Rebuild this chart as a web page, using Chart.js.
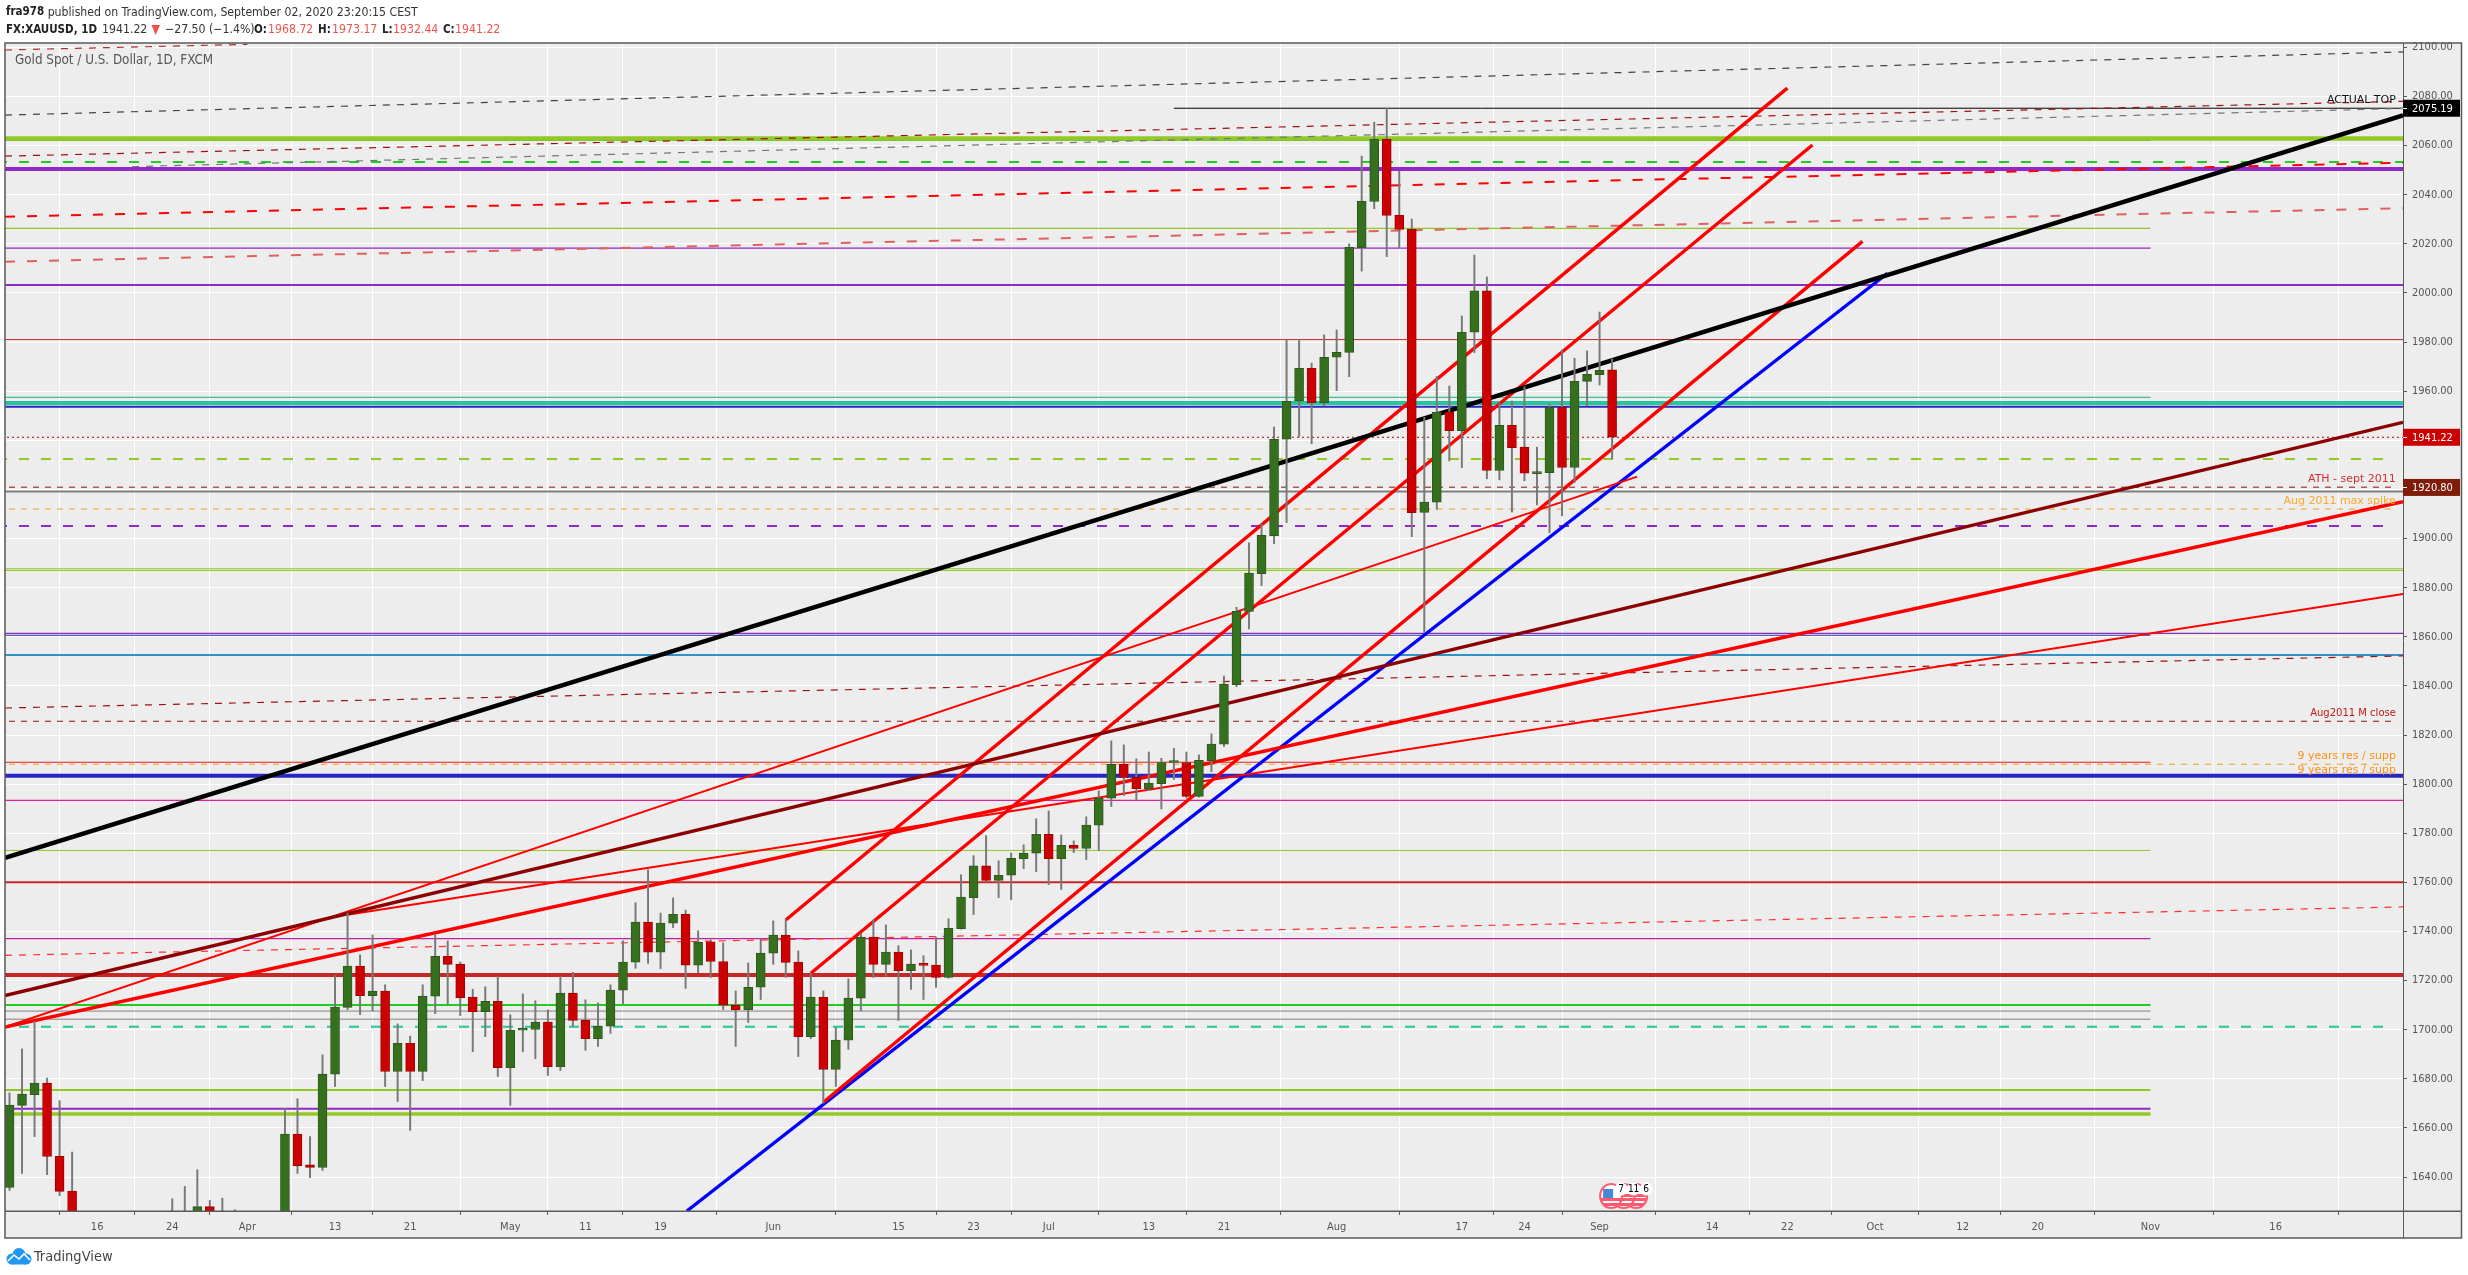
<!DOCTYPE html>
<html><head><meta charset="utf-8"><title>XAUUSD</title>
<script src="https://cdn.jsdelivr.net/npm/chart.js@4"></script>
<style>html,body{margin:0;padding:0;background:#fff}canvas{display:block}</style></head>
<body><canvas id="c" width="2468" height="1275"></canvas>
<script>
// Trading-day index 0 = 5 Mar 2020, weekdays only
const opens=[1635.8,1669.2,1673.6,1678.3,1648.5,1634.3,1577,1530,1486,1526,
1477,1471,1498,1553,1611,1612,1628,1617,1621,1577,
1591,1614,1620,1657.5,1645,1643.9,1681.9,1709.1,1725.9,1713.9,
1715.7,1683,1694.5,1683,1713.7,1729.9,1726.7,1713.3,1707.4,1711.6,
1684.6,1699.8,1700.1,1703.1,1685,1714.9,1703.9,1696.4,1701.5,1716.1,
1727.5,1743.8,1731.6,1743.4,1747,1726.3,1735.8,1727.8,1710,1708.2,
1717.3,1731.2,1738.5,1727.5,1697.2,1713.3,1683.8,1695.8,1712.9,1737.7,
1726.6,1731.6,1724.1,1726.7,1726.3,1721.3,1741.2,1753.8,1766.7,1760.8,
1762.9,1769.7,1771.9,1779.6,1769.7,1775.1,1773.8,1783.3,1794.3,1808.1,
1802.8,1798.2,1800.2,1808.8,1808.8,1795,1809.6,1816.3,1840.5,1870.3,
1885.7,1901.2,1940.4,1955.9,1969.3,1955.3,1973.8,1975.8,2018.4,2037.2,
2062.5,2031.6,2025.9,1910.6,1914.8,1951.5,1943.9,1984,2000.8,1927.7,
1946.1,1937.2,1926.4,1926.8,1953.4,1928.9,1964,1966.7,1968.72];
const closes=[1669.3,1673.8,1678.3,1648.4,1634.2,1577,1530,1486,1526,1477,
1471,1498,1553,1611,1612,1628,1617,1621,1577,1591,
1614,1620,1657.5,1644.7,1643.9,1681.9,1709.2,1725.9,1713.9,1715.7,
1683,1694.5,1683,1713.7,1729.9,1726.6,1713.1,1707.4,1711.6,1684.6,
1699.8,1700.2,1703.1,1685,1714.9,1703.8,1696.4,1701.5,1716.1,1727.5,
1743.8,1731.6,1743.4,1747,1726.3,1735.6,1727.8,1710,1708.2,1717.3,
1731.2,1738.5,1727.4,1697.2,1713.3,1683.8,1695.8,1712.9,1737.7,1726.6,
1731.6,1724.1,1726.7,1726.2,1721.3,1741.3,1754,1766.7,1760.8,1762.9,
1769.8,1771.9,1779.6,1769.7,1775.1,1773.8,1783.3,1794.3,1808.1,1802.7,
1798.2,1800.4,1808.8,1809.1,1795,1809.7,1816.3,1840.7,1870.4,1885.9,
1901.3,1940.4,1955.9,1969.3,1955.3,1973.8,1975.8,2018.6,2037.3,2062.5,
2031.5,2025.8,1910.5,1914.8,1951.4,1943.9,1984,2000.8,1927.7,1946.1,
1937,1926.6,1927.1,1953.4,1928.9,1964,1966.9,1968.5,1941.22];
const highs=[1674.3,1692.2,1703.4,1680.3,1671.1,1650.2,1595,1575,1547,1548,
1505,1518,1553,1631.2,1636.2,1643,1630.5,1631.4,1626.7,1610,
1625,1625,1668,1671.9,1656.5,1689.8,1722.1,1747.5,1730.5,1738.6,
1718.3,1702.4,1697.4,1718.3,1738.6,1736.2,1727.6,1716.5,1717.5,1721.7,
1706.1,1714.6,1711.8,1708.1,1721.7,1723.4,1712.2,1710.9,1718.3,1736.2,
1751.7,1765.1,1747.5,1753.7,1748.7,1740.3,1736.6,1735.4,1715.8,1727.2,
1736.9,1744.3,1745,1732.1,1723,1715.8,1700.8,1720.7,1739.3,1744.7,
1742.7,1734.2,1732.5,1730.1,1737.7,1745.2,1763.1,1770.9,1779,1768.8,
1772,1775.3,1785.9,1789.1,1779.3,1776.9,1786.7,1797.3,1817.6,1816,
1810.3,1813.1,1810.5,1814.6,1813.1,1811.9,1820.5,1844,1872,1898.2,
1906,1945.4,1981,1981,1971.4,1982.9,1984.9,2020,2055.7,2069.5,
2075.2,2049.6,2030.1,1949.4,1966,1962.1,1990.6,2015.4,2006.5,1955.3,
1956,1961.8,1937.2,1954.8,1976.8,1973.4,1976.4,1992.2,1973.17];
const lows=[1634.6,1641.5,1656.5,1641,1632.5,1560,1505,1451,1475,1471,
1465,1466,1484,1553,1590,1598,1610,1610,1570,1572,
1588,1600,1610,1641.5,1639.8,1642.7,1676.9,1708.2,1706.2,1707.7,
1676.9,1670.8,1659,1679.3,1706.6,1710.4,1705.8,1691.1,1697.2,1681,
1669.2,1691.1,1688.2,1681.4,1683.4,1701.3,1691.6,1693.2,1698.5,1710.6,
1725,1727,1724.9,1741.6,1716.8,1723.2,1721.3,1708.2,1693.2,1703,
1712.3,1726.6,1721.3,1689.1,1696.4,1670.1,1676.9,1692,1707.7,1721.3,
1721.7,1703.8,1716.4,1712.3,1717.2,1721,1741,1746.9,1760.3,1753.8,
1752.9,1765.6,1764.4,1759.1,1757.1,1772.1,1769.3,1772.9,1790.9,1795.4,
1793.6,1797.4,1789.9,1801.9,1794.3,1794.7,1805.1,1815.3,1839.7,1863.2,
1880.8,1897.9,1906.5,1941.4,1938.6,1954,1960.2,1965.9,2008.9,2034.3,
2014.8,2018.4,1900.8,1861.7,1911.9,1931.6,1928.9,1975.7,1924.3,1923.9,
1910.8,1923.5,1913.7,1902.4,1909.2,1922.8,1954,1962.5,1932.44];

const xTickIndex=[7,13,19,26,32,40,46,52,61,71,77,83,91,97,106,116,121,127,136,142,149,156,162,171,181];
const xTickLabels=['16','24','Apr','13','21','May','11','19','Jun','15','23','Jul','13','21','Aug','17','24','Sep','14','22','Oct','12','20','Nov','16'];
const yTickValues=[1640,1660,1680,1700,1720,1740,1760,1780,1800,1820,1840,1860,1880,1900,1920,1940,1960,1980,2000,2020,2040,2060,2080,2100];

// Horizontal levels: price, first and last trading-day index
const levelPrices=[2062.9,2062.1,2053.3,2050.5,2026.3,2018.2,2003.2,1981,1957.5,1955.2,1953.7,1941.22,1932.4,1920.9,1919.1,1912,1905.1,1887.7,1887,1861.4,1860.6,1852.6,1825.6,1808.9,1808.1,1803.4,1793.4,1773,1760,1737.1,1722.3,1710.1,1707.6,1704.3,1701.2,1675.5,1667.8,1665.7,2075.19];
const levelStarts=[-1,-1,-1,-1,-1,-1,-1,-1,-1,-1,-1,-1,-1,-1,-1,-1,-1,-1,-1,-1,-1,-1,-1,-1,-1,-1,-1,-1,-1,-1,-1,-1,-1,-1,-1,-1,-1,-1,93];
const levelEnds=[192,171,192,192,171,171,192,192,171,192,192,192,190.4,190.4,192,190.6,190.4,192,192,192,171,192,190.4,171,190.6,192,192,171,192,171,192,171,171,171,190.4,171,171,171,192];

// Sloped trend lines: start index, start price, end index, end price
const trendStartX=[-0.36,-0.36,-0.36,-0.36,27,62,64,65,54.1,-0.36,-0.36,-0.36,9.8,-0.36,-0.36,-0.36,-0.36];
const trendStartP=[1770,1713.9,1701.1,1701.1,1746.8,1744.7,1723,1670.5,1626.2,2098.9,2072.4,2055.7,2051.4,2031,2012.7,1730.3,1831];
const trendEndX=[191.17,191.17,191.17,130,191.17,142,144,148,150,19,191.17,191.17,191.17,191.17,191.17,191.17,191.17];
const trendEndP=[2072.3,1947.3,1915,1925.2,1877.4,2083.4,2060.2,2021,2008,2101.2,2098.1,2078,2075.1,2053,2034.5,1750,1852.2];

const noteTexts=['ACTUAL TOP','ATH - sept 2011','Aug 2011 max spike','Aug2011 M close','9 years res / supp','9 years res / supp'];
const notePrices=[2078.3,1924,1915.4,1828.7,1811.5,1805.8];
const priceTagValues=[2075.19,1941.22,1920.80];
const eventIndex=[130,129,128];
const eventCounts=['6','11','7'];

const headerLine1=['fra978',' published on TradingView.com, September 02, 2020 23:20:15 CEST'];
const instrumentTitle='Gold Spot / U.S. Dollar, 1D, FXCM';

// Styles, kept apart from the values
const OLIVE='#93c926',LIME='#22cc22',PURPLE='#9129c9',BRICK='#c62828',TEAL='#26c79a',NAVY='#2626c4',ORANGE='#f59e20',DKRED='#8b1010',GRAY='#808080',PINK='#e0209a',MAG='#c020a0';
const D2=[10,12],D1=[6,6];
const levelStyles=[[OLIVE,4.5],[LIME,1.3],[LIME,2,D2],[PURPLE,4],[OLIVE,1.3],[PURPLE,1.3],[PURPLE,2],[BRICK,1],['#3bbf95',1.3],[TEAL,4],[NAVY,2],['#b00000',1,[2,3]],[OLIVE,2,D2],[DKRED,1,D1],[GRAY,2],[ORANGE,1,D1],[PURPLE,2,D2],[OLIVE,1],[OLIVE,1],['#8a2fb0',1.3],['#3030c8',1],['#2e93c7',2],[DKRED,1,D1],['#e02020',1],[ORANGE,1,D1],[NAVY,4],[PINK,1.3],[OLIVE,1],[BRICK,2],[MAG,1.3],[BRICK,4],[LIME,2],[GRAY,1],[GRAY,1],[TEAL,2,D2],[OLIVE,2],[PURPLE,2],[OLIVE,3.5],['#000000',1]];
const trendStyles=[['#000000',4.5],['#8b0000',3.4],['#ff0000',3.4],['#ff0000',2],['#ff0000',2],['#ff0000',3.4],['#ff0000',3.4],['#ff0000',3.4],['#0000ff',3.4],['#b03030',1.2,[7,7]],['#444444',1.2,[7,7]],['#a01010',1.2,[7,7]],['#777777',1.2,[7,7]],['#ff0000',2,D2],['#e06060',2,D2],['#ff3030',1.2,[7,7]],['#a01010',1.2,[7,7]]];
const noteColors=['#111111','#d03030','#ffa726','#c01818','#ff9010','#ff9010'];
const noteSizes=[11,11,11,10,11,11];
const tagColors=['#000000','#cc0000','#7f1d0a'];
const FONT='"DejaVu Sans Condensed","Liberation Sans",sans-serif';

const isUp=i=>closes[i]>=opens[i];
const lineDs=(pts,st,ord)=>({type:'line',data:pts,borderColor:st[0],borderWidth:st[1],borderDash:st[2]||[],pointRadius:0,tension:0,fill:false,order:ord,parsing:true});
const datasets=[
 {type:'bar',data:opens.map((o,i)=>({x:i,y:[o,closes[i]]})),barThickness:9,minBarLength:2,grouped:false,borderWidth:1,borderSkipped:false,
  backgroundColor:opens.map((o,i)=>isUp(i)?'#36701f':'#cc0000'),borderColor:opens.map((o,i)=>isUp(i)?'#2c5a1a':'#a50000'),order:0},
 {type:'bar',data:lows.map((l,i)=>({x:i,y:[l,highs[i]]})),barThickness:1.3,grouped:false,borderWidth:0,backgroundColor:'#787878',order:1}
];
trendStartX.forEach((x,i)=>datasets.push(lineDs([{x,y:trendStartP[i]},{x:trendEndX[i],y:trendEndP[i]}],trendStyles[i],2+i)));
levelPrices.forEach((p,i)=>datasets.push(lineDs([{x:levelStarts[i],y:p},{x:levelEnds[i],y:p}],levelStyles[i],30+i)));

const frame={id:'frame',
 beforeDraw(ch){const c=ch.ctx;c.save();c.fillStyle='#ffffff';c.fillRect(0,0,2468,1275);c.fillStyle='#ededed';c.fillRect(5,43,2456.5,1195);c.restore();},
 afterDraw(ch){const c=ch.ctx,a=ch.chartArea,X=ch.scales.x,Y=ch.scales.y;c.save();
  // frame
  c.strokeStyle='#5a5a5a';c.lineWidth=1.5;c.strokeRect(5,43,2456.5,1195);
  c.beginPath();c.moveTo(5,a.bottom+.25);c.lineTo(2461.5,a.bottom+.25);c.stroke();
  c.lineWidth=1;c.beginPath();c.moveTo(a.right+.5,43);c.lineTo(a.right+.5,1238);c.stroke();
  // line notes
  c.textAlign='right';c.textBaseline='middle';
  noteTexts.forEach((t,i)=>{c.font=noteSizes[i]+'px "DejaVu Sans",sans-serif';c.fillStyle=noteColors[i];c.fillText(t,X.getPixelForValue(190.6),Y.getPixelForValue(notePrices[i]));});
  // price tags
  c.textAlign='left';c.font='11px '+FONT;
  priceTagValues.forEach((v,i)=>{const y=Y.getPixelForValue(v);c.fillStyle=tagColors[i];c.fillRect(a.right,y-8.5,57,17);
    c.fillStyle='#ffffff';c.fillText(v.toFixed(2),a.right+9,y+.5);
    c.strokeStyle='#ffffff';c.lineWidth=1;c.beginPath();c.moveTo(a.right,Math.round(y)+.5);c.lineTo(a.right+4,Math.round(y)+.5);c.stroke();});
  // event flags
  eventIndex.forEach((ix,k)=>{const x=X.getPixelForValue(ix)-1,y=1196;
    c.save();c.beginPath();c.ellipse(x,y,11,12,0,0,Math.PI*2);c.fillStyle='#ffffff';c.fill();c.clip();
    c.fillStyle='#ff5a6e';c.fillRect(x-12,y+2,24,3);c.fillRect(x-12,y+7,24,3);
    c.fillStyle=k===2?'#4a86d8':'#ff5a6e';if(k===2)c.fillRect(x-8,y-7,10,9);else c.fillRect(x-12,y-2,24,3);
    c.restore();
    c.beginPath();c.ellipse(x,y,11,12,0,0,Math.PI*2);c.strokeStyle='#ff5a6e';c.lineWidth=2;c.stroke();});
  eventIndex.forEach((ix,k)=>{const x=X.getPixelForValue(ix)+9,y=1189;
    c.beginPath();c.arc(x,y,6.5,0,Math.PI*2);c.fillStyle='#ffffff';c.fill();
    c.fillStyle='#000000';c.textAlign='center';c.font='10px '+FONT;c.fillText(eventCounts[k],x,y);});
  // header
  c.textAlign='left';c.textBaseline='middle';c.font='bold 11.5px '+FONT;c.fillStyle='#222222';
  c.fillText(headerLine1[0],6,12.5);let w=c.measureText(headerLine1[0]).width;
  c.font='12.2px '+FONT;c.fillStyle='#333333';c.fillText(headerLine1[1],6+w,12.5);
  const put=(t,x,col,b)=>{c.font=(b?'bold 11.5px ':'12.2px ')+FONT;c.fillStyle=col;c.fillText(t,x,30);};
  const R='#ef5350',K='#222222';
  put('FX:XAUUSD, 1D',6,K,1);put('1941.22',102,'#333333');put('−27.50 (−1.4%)',165,'#333333');
  c.fillStyle=R;c.beginPath();c.moveTo(151.5,25);c.lineTo(160,25);c.lineTo(155.7,35);c.closePath();c.fill();
  put('O:',254,K,1);put('1968.72',268,R);put('H:',318,K,1);put('1973.17',332,R);put('L:',382,K,1);put('1932.44',393,R);put('C:',443,K,1);put('1941.22',455,R);
  c.font='13.3px '+FONT;c.fillStyle='#555555';c.fillText(instrumentTitle,15,61);
  // footer
  c.fillStyle='#2196f3';c.beginPath();c.arc(12,1259,5.5,0,Math.PI*2);c.arc(19,1254.5,6.5,0,Math.PI*2);c.arc(26,1259,5.5,0,Math.PI*2);c.fill();c.fillRect(12,1258,14,6.5);
  c.strokeStyle='#ffffff';c.lineWidth=1.6;c.beginPath();c.moveTo(8,1261);c.lineTo(14,1255);c.lineTo(19,1259);c.lineTo(24,1254);c.lineTo(30,1260);c.stroke();
  c.font='14.5px '+FONT;c.fillStyle='#444444';c.fillText('TradingView',34,1257.5);
  c.restore();}
};

new Chart(document.getElementById('c'),{
 data:{datasets},
 options:{responsive:false,animation:false,devicePixelRatio:1,
  layout:{autoPadding:false,padding:{left:5,top:43,right:0,bottom:0}},
  plugins:{legend:{display:false},tooltip:{enabled:false},title:{display:false}},
  scales:{
   x:{type:'linear',min:-0.36,max:191.17,offset:false,
    afterBuildTicks:s=>{s.ticks=xTickIndex.map(v=>({value:v}));},
    afterFit:s=>{s.height=64;},
    grid:{color:'#ffffff',lineWidth:1,tickLength:4,tickColor:'#5a5a5a',drawTicks:true},border:{display:false},
    ticks:{autoSkip:false,maxRotation:0,padding:6,color:'#555555',font:{family:FONT,size:11},
     callback:v=>xTickLabels[xTickIndex.indexOf(v)]}},
   y:{type:'linear',position:'right',min:1626.2,max:2101.75,
    afterBuildTicks:s=>{s.ticks=yTickValues.map(v=>({value:v}));},
    afterFit:s=>{s.width=65;},
    grid:{color:'#ffffff',lineWidth:1,tickLength:4,tickColor:'#5a5a5a',drawTicks:true},border:{display:false},
    ticks:{padding:5,color:'#555555',font:{family:FONT,size:11},callback:v=>v.toFixed(2)}}
  }},
 plugins:[frame]
});
</script></body></html>
